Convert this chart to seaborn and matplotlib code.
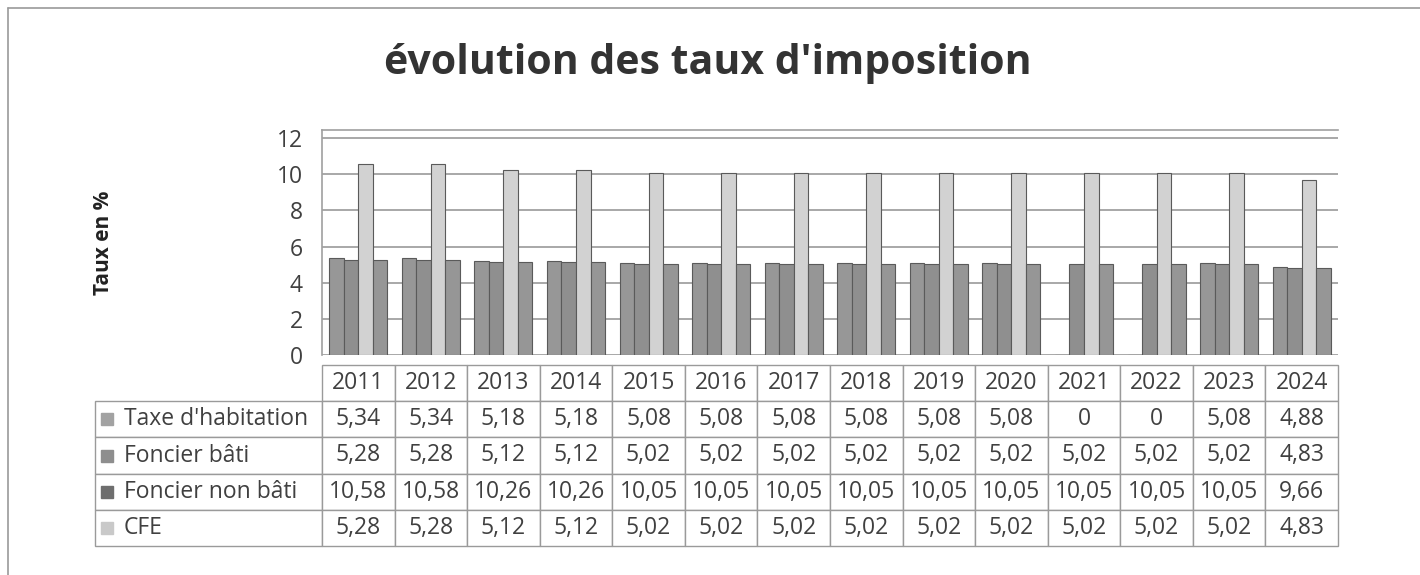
import pandas as pd
import seaborn as sns
from matplotlib import pyplot as plt

# data
years = ["2011", "2012", "2013", "2014", "2015", "2016", "2017",
         "2018", "2019", "2020", "2021", "2022", "2023", "2024"]
series = ["Taxe d'habitation", "Foncier bâti", "Foncier non bâti", "CFE"]
taxe_habitation = [5.34, 5.34, 5.18, 5.18, 5.08, 5.08, 5.08, 5.08, 5.08, 5.08, 0, 0, 5.08, 4.88]
foncier_bati = [5.28, 5.28, 5.12, 5.12, 5.02, 5.02, 5.02, 5.02, 5.02, 5.02, 5.02, 5.02, 5.02, 4.83]
foncier_non_bati = [10.58, 10.58, 10.26, 10.26, 10.05, 10.05, 10.05, 10.05, 10.05, 10.05, 10.05, 10.05, 10.05, 9.66]
cfe = [5.28, 5.28, 5.12, 5.12, 5.02, 5.02, 5.02, 5.02, 5.02, 5.02, 5.02, 5.02, 5.02, 4.83]

values = [taxe_habitation, foncier_bati, foncier_non_bati, cfe]
bar_colors = ["#979797", "#8f8f8f", "#d2d2d2", "#969696"]
marker_colors = ["#a2a2a2", "#8e8e8e", "#6e6e6e", "#c9c9c9"]

df = pd.DataFrame({
    "year": years * 4,
    "serie": [s for s in series for _ in years],
    "taux": [v for vals in values for v in vals],
})

sns.set_style("white")
plt.rcParams['font.family'] = ['Open Sans', 'DejaVu Sans']
txt = "#404040"
fs = 16.5

fig = plt.figure(figsize=(14.2, 5.75), dpi=100)
ax = fig.add_axes([322 / 1420, 220 / 575, 1016 / 1420, 225 / 575])

sns.barplot(df, x="year", y="taux", hue="serie", hue_order=series,
            palette=bar_colors, width=0.8, saturation=1, ax=ax,
            edgecolor="#5a5a5a", linewidth=0.8, legend=False, errorbar=None)

ax.set_ylim(0, 12.45)
ax.set_xlim(-0.5, 13.5)
ax.set_yticks(range(0, 13, 2))
ax.set_yticklabels([str(v) for v in range(0, 13, 2)], fontsize=fs, color=txt)
ax.tick_params(axis="y", length=0, pad=14)
ax.set_xticks([])
ax.set_xlabel("")
ax.set_ylabel("Taux en %", fontsize=15, fontweight="bold", color="#222222", labelpad=117)
ax.yaxis.grid(True, color="#999999", linewidth=1.2)
ax.set_axisbelow(True)
for side in ["right", "bottom"]:
    ax.spines[side].set_visible(False)
for side in ["left", "top"]:
    ax.spines[side].set_color("#a0a0a0")
    ax.spines[side].set_linewidth(1.2)

# data table under the chart
label_w = 227
col_w = 72.57
total_w = label_w + col_w * len(years)
cell_text = [[""] + [("0" if v == 0 else f"{v:.2f}".replace(".", ",")) for v in vals] for vals in values]
bbox_top = (355 - 365) / 225
bbox_bottom = (355 - 546) / 225
tbl = ax.table(cellText=cell_text, colLabels=[""] + years,
               colWidths=[label_w / total_w] + [col_w / total_w] * len(years),
               cellLoc="center",
               bbox=[-label_w / 1016, bbox_bottom, total_w / 1016, bbox_top - bbox_bottom])
tbl.auto_set_font_size(False)
tbl.set_fontsize(fs)
for (r, c), cell in tbl.get_celld().items():
    cell.set_edgecolor("#9a9a9a")
    cell.set_linewidth(1.0)
    cell.get_text().set_color(txt)
    if r == 0 and c == 0:
        cell.set_linewidth(0)

row_h = (bbox_top - bbox_bottom) / 5
for i, (name, mc) in enumerate(zip(series, marker_colors)):
    yc = bbox_top - (i + 1.5) * row_h
    ax.plot([(107 - 322) / 1016], [yc], marker="s", markersize=8, color=mc,
            transform=ax.transAxes, clip_on=False)
    ax.text((124 - 322) / 1016, yc, name, transform=ax.transAxes, fontsize=fs,
            color=txt, ha="left", va="center")

fig.text(708 / 1420, 1 - 64 / 575, "évolution des taux d'imposition", fontsize=29.5,
         fontweight="bold", color="#333333", ha="center", va="center")

# outer chart frame
fig.add_artist(plt.Line2D([8 / 1420, 1], [1 - 8 / 575, 1 - 8 / 575],
                          color="#9a9a9a", linewidth=1.2))
fig.add_artist(plt.Line2D([8 / 1420, 8 / 1420], [0, 1 - 8 / 575],
                          color="#9a9a9a", linewidth=1.2))

fig.savefig("out.png", dpi=100)
